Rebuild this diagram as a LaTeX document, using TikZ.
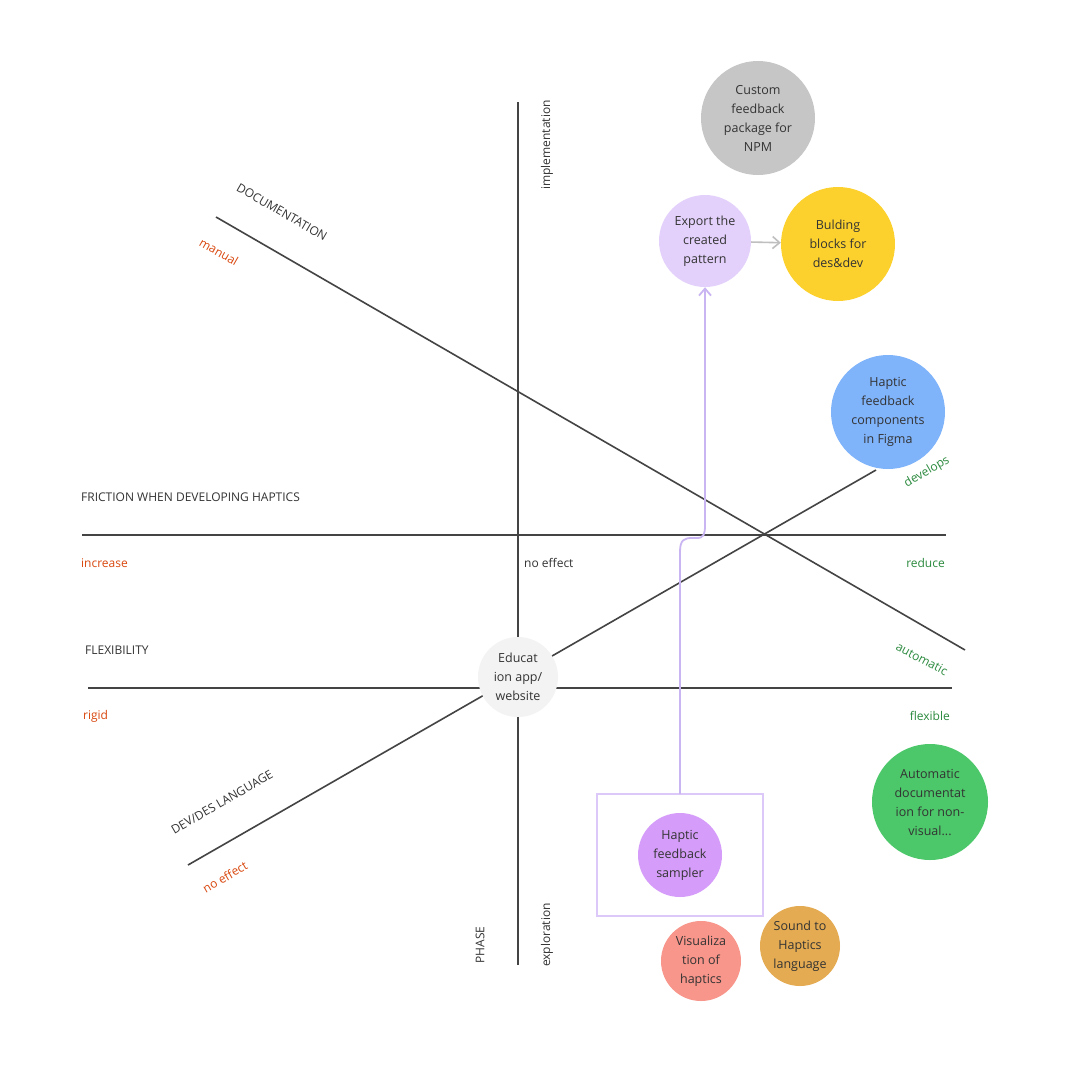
\documentclass[tikz,border=0pt]{standalone}
\usepackage{fontspec}
\setmainfont{Open Sans}
\usetikzlibrary{arrows.meta}
\definecolor{lnc}{HTML}{444444}
\definecolor{redt}{HTML}{D9480F}
\definecolor{grnt}{HTML}{2B8A3E}
\definecolor{cgray}{HTML}{C6C6C6}
\definecolor{cexp}{HTML}{E3D1FB}
\definecolor{cyel}{HTML}{FCD12E}
\definecolor{cblue}{HTML}{7FB3FA}
\definecolor{cedu}{HTML}{F3F3F3}
\definecolor{cgrn}{HTML}{4CC86A}
\definecolor{csamp}{HTML}{D59DF9}
\definecolor{cbox}{HTML}{DCC9FA}
\definecolor{csal}{HTML}{F8968B}
\definecolor{corg}{HTML}{E4AB52}
\definecolor{arrp}{HTML}{C9B5F2}
\tikzset{
 axis/.style={lnc,line width=1.6pt},
 lbl/.style={font=\fontsize{12}{14}\selectfont,text=black!80,inner sep=1pt},
 bub/.style={circle,minimum size=#1,inner sep=0pt,align=center,font=\fontsize{12.5}{19}\selectfont,text=black!80},
}
\begin{document}
\begin{tikzpicture}[x=1pt,y=-1pt]
\useasboundingbox[fill=white] (0,0) rectangle (1080,1080);
\coordinate (v1) at (518,102); \coordinate (v2) at (518,965);
\coordinate (h1) at (82,535); \coordinate (h2) at (946,535);
\coordinate (f1) at (88,688); \coordinate (f2) at (952,688);
\coordinate (d1) at (216,217); \coordinate (d2) at (965,650);
\coordinate (e1) at (188,865); \coordinate (e2) at (876,470);
\draw[axis] (v1)--(v2);
\draw[axis] (h1)--(h2);
\draw[axis] (f1)--(f2);
\draw[axis] (d1)--(d2);
\draw[axis] (e1)--(e2);
\node[lbl,rotate=90] (impl) at (547,145) {implementation};
\node[lbl,rotate=90] (expl) at (547,935) {exploration};
\node[lbl,rotate=90] (phase) at (480,945) {PHASE};
\node[lbl,rotate=-30] (doc) at (282,212) {DOCUMENTATION};
\node[lbl,rotate=-30,text=redt] (man) at (219,252) {manual};
\node[lbl,anchor=west] (fr) at (80,497) {FRICTION WHEN DEVELOPING HAPTICS};
\node[lbl,anchor=west,text=redt] (inc) at (80,563) {increase};
\node[lbl,anchor=west] (noe) at (523,563) {no effect};
\node[lbl,anchor=east,text=grnt] (red) at (946,563) {reduce};
\node[lbl,anchor=west] (flx) at (84,650) {FLEXIBILITY};
\node[lbl,anchor=west,text=redt] (rig) at (82,716) {rigid};
\node[lbl,anchor=east,text=grnt] (flex) at (951,716) {flexible};
\node[lbl,rotate=-28,text=grnt] (aut) at (922,659) {automatic};
\node[lbl,rotate=30,text=grnt] (dev) at (927,472) {develops};
\node[lbl,rotate=30] (dd) at (222,802) {DEV/DES LANGUAGE};
\node[lbl,rotate=30,text=redt] (ne2) at (225,877) {no effect};
\node[bub=114pt,fill=cgray] (cust) at (758,118) {Custom\\feedback\\package for\\NPM};
\node[bub=92pt,fill=cexp] (exp) at (705,241) {Export the\\created\\pattern};
\node[bub=114pt,fill=cyel] (bb) at (838,244) {Bulding\\blocks for\\des\&dev};
\node[bub=114pt,fill=cblue] (fig) at (888,412) {Haptic\\feedback\\components\\in Figma};
\node[bub=80pt,fill=cedu] (edu) at (518,677) {Educat\\ion app/\\website};
\node[bub=116pt,fill=cgrn] (adoc) at (930,802) {Automatic\\documentat\\ion for non-\\visual...};
\draw[cbox,line width=2pt] (597,794) rectangle (763,916);
\coordinate (boxtop) at (680,794);
\node[bub=84pt,fill=csamp] (samp) at (680,855) {Haptic\\feedback\\sampler};
\node[bub=80pt,fill=csal] (vis) at (701,961) {Visualiza\\tion of\\haptics};
\node[bub=80pt,fill=corg] (snd) at (800,946) {Sound to\\Haptics\\language};
\draw[black!25,line width=1.6pt,-{Straight Barb[length=7pt,width=12pt]}] (exp)--(bb);
\draw[arrp,line width=1.8pt,-{Straight Barb[length=7pt,width=12pt]}]
  (boxtop)--(680,552) .. controls (680,540) and (684,538) .. (692,538)
  -- (697,538) .. controls (704,538) and (705,534) .. (705,525) -- (exp.south);
\end{tikzpicture}
\end{document}
